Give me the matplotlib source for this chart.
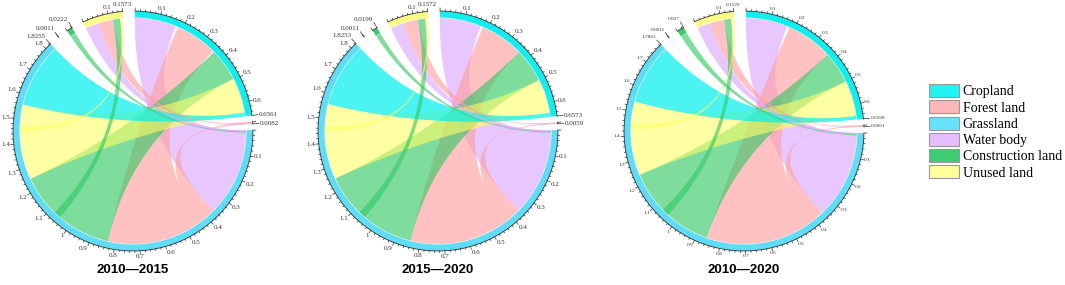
import numpy as np
import matplotlib.pyplot as plt
from matplotlib.patches import Wedge, Patch

# land classes, in clockwise order round each circle
classes = ["Cropland", "Forest land", "Grassland", "Water body",
           "Construction land", "Unused land"]
ring_colors = ["#14EDED", "#FFB0B0", "#5FDDF6", "#E2B6FF", "#3DCB70", "#FAFA88"]
legend_colors = ["#22F2F2", "#FFB6B6", "#66E2FA", "#E6BEFF", "#3ECC73", "#FFFF99"]
chord_colors = ["#00EEEE", "#FFA0A0", "#5FDDF6", "#DDA8FF", "#2FC862", "#FFFF66"]
chord_alpha = [0.7, 0.65, 0.6, 0.65, 0.62, 0.6]

titles = ["2010\u20142015", "2015\u20142020", "2010\u20142020"]

totals_1 = [0.6561, 0.0082, 1.8255, 0.0011, 0.0222, 0.1573]
totals_2 = [0.6573, 0.0059, 1.8253, 0.0011, 0.0199, 0.1572]
totals_3 = [0.6599, 0.0061, 1.7865, 0.0011, 0.0270, 0.1529]

# links: (sector a, a from, a to, sector b, b from, b to, colour class)
links_1 = [
    (2, 0.00, 0.36, 0, 0.00, 0.17, 3),
    (2, 0.43, 0.83, 0, 0.18, 0.355, 1),
    (2, 0.83, 1.25, 0, 0.36, 0.495, 4),
    (2, 1.25, 1.56, 0, 0.495, 0.64, 5),
    (2, 1.56, 1.8255, 0, 0.64, 0.6561, 0),
    (1, 0.0, 0.0082, 2, 0.36, 0.43, 1),
    (5, 0.000, 0.055, 2, 0.000, 0.006, 3),
    (5, 0.055, 0.115, 1, 0.000, 0.004, 1),
    (5, 0.115, 0.145, 2, 1.050, 1.080, 4),
    (5, 0.145, 0.1573, 2, 1.450, 1.470, 5),
    (4, 0.000, 0.0222, 2, 0.006, 0.010, 4),
    (3, 0.000, 0.0011, 1, 0.006, 0.0082, 3),
]
links_2 = [
    (2, 0.00, 0.36, 0, 0.00, 0.17, 3),
    (2, 0.43, 0.84, 0, 0.18, 0.36, 1),
    (2, 0.84, 1.25, 0, 0.36, 0.50, 4),
    (2, 1.25, 1.56, 0, 0.50, 0.64, 5),
    (2, 1.56, 1.8253, 0, 0.64, 0.6573, 0),
    (1, 0.0, 0.0059, 2, 0.36, 0.43, 1),
    (5, 0.000, 0.055, 2, 0.000, 0.006, 3),
    (5, 0.055, 0.115, 1, 0.000, 0.003, 1),
    (5, 0.115, 0.145, 2, 1.050, 1.080, 4),
    (5, 0.145, 0.1572, 2, 1.450, 1.470, 5),
    (4, 0.000, 0.0199, 2, 0.006, 0.010, 4),
    (3, 0.000, 0.0011, 1, 0.004, 0.0059, 3),
]
links_3 = [
    (2, 0.00, 0.36, 0, 0.00, 0.17, 3),
    (2, 0.42, 0.86, 0, 0.18, 0.37, 1),
    (2, 0.86, 1.24, 0, 0.37, 0.50, 4),
    (2, 1.24, 1.54, 0, 0.50, 0.645, 5),
    (2, 1.54, 1.7865, 0, 0.645, 0.6599, 0),
    (1, 0.0, 0.0061, 2, 0.36, 0.42, 1),
    (5, 0.000, 0.055, 2, 0.000, 0.006, 3),
    (5, 0.055, 0.112, 1, 0.000, 0.003, 1),
    (5, 0.112, 0.140, 2, 1.040, 1.070, 4),
    (5, 0.140, 0.1529, 2, 1.430, 1.450, 5),
    (4, 0.000, 0.0270, 2, 0.006, 0.010, 4),
    (3, 0.000, 0.0011, 1, 0.004, 0.0061, 3),
]

panels = [(totals_1, links_1), (totals_2, links_2), (totals_3, links_3)]
centers_x = [133, 438, 744]
CY = 154
R_OUT = 120
RING_W = 6.5
R_LINK = R_OUT - RING_W - 0.5
gaps = [3, 3, 5, 5, 6, 6]
START = 89.0
label_sizes = [5.0, 5.0, 3.8]

fig = plt.figure(figsize=(10.65, 2.85), dpi=100)
ax = fig.add_axes([0, 0, 1, 1])
ax.set_xlim(0, 1065)
ax.set_ylim(0, 285)
ax.axis("off")


def polar(cx, r, deg):
    t = np.radians(deg)
    return cx + r * np.cos(t), CY + r * np.sin(t)


def bezier(p0, p2, c, n=50):
    t = np.linspace(0, 1, n)
    x = (1 - t) ** 2 * p0[0] + 2 * (1 - t) * t * c[0] + t ** 2 * p2[0]
    y = (1 - t) ** 2 * p0[1] + 2 * (1 - t) * t * c[1] + t ** 2 * p2[1]
    return x, y


def arc(cx, r, d1, d2, n=60):
    d = np.linspace(d1, d2, n)
    return polar(cx, r, d)


def place(d):
    c, sn = np.cos(np.radians(d)), np.sin(np.radians(d))
    ha = "left" if c > 0.25 else ("right" if c < -0.25 else "center")
    va = "bottom" if sn > 0.25 else ("top" if sn < -0.25 else "center")
    return ha, va


for k, (totals, links) in enumerate(panels):
    cx = centers_x[k]
    scale = (360 - sum(gaps)) / sum(totals)
    starts = []
    a = START
    for t, g in zip(totals, gaps):
        starts.append(a)
        a -= t * scale + g

    def ang(s, v):
        return starts[s] - v * scale

    # chords
    for (sa, a0, a1, sb, b0, b1, ci) in links:
        xa, ya = arc(cx, R_LINK, ang(sa, a0), ang(sa, a1))
        xb, yb = arc(cx, R_LINK, ang(sb, b0), ang(sb, b1))
        x1, y1 = bezier((xa[-1], ya[-1]), (xb[0], yb[0]), (cx, CY))
        x2, y2 = bezier((xb[-1], yb[-1]), (xa[0], ya[0]), (cx, CY))
        xs = np.concatenate([xa, x1, xb, x2])
        ys = np.concatenate([ya, y1, yb, y2])
        ax.fill(xs, ys, color=chord_colors[ci], alpha=chord_alpha[ci], lw=0)

    # ring sectors with ticks and labels
    fs = label_sizes[k]
    for s, total in enumerate(totals):
        a_end = ang(s, total)
        ax.add_patch(Wedge((cx, CY), R_OUT, a_end, starts[s], width=RING_W,
                           facecolor=ring_colors[s], edgecolor="none"))
        ox, oy = arc(cx, R_OUT, starts[s], a_end)
        ax.plot(ox, oy, color="#333333", lw=0.6)
        for v in np.arange(0, total + 1e-9, 0.02):
            major = abs(v / 0.1 - round(v / 0.1)) < 1e-6
            d = ang(s, v)
            ln = 3 if major else 1.6
            px, py = polar(cx, np.array([R_OUT, R_OUT + ln]), d)
            ax.plot(px, py, color="#333333", lw=0.5)
            if major and v > 0.05:
                tx, ty = polar(cx, R_OUT + 3.5, d)
                ha, va = place(d)
                ax.text(tx, ty, f"{round(v, 1):g}", fontsize=fs,
                        family="Liberation Serif", color="#333333", ha=ha, va=va)
        # end tick and value; near the top keep it close to the ring
        near_top = np.sin(np.radians(a_end)) > 0.9
        ln = 3 if near_top else 6
        px, py = polar(cx, np.array([R_OUT, R_OUT + ln]), a_end)
        ax.plot(px, py, color="#333333", lw=0.5)
        tx, ty = polar(cx, R_OUT + ln + 1, a_end)
        ha, va = place(a_end)
        ax.text(tx, ty, f"{total:g}", fontsize=fs, family="Liberation Serif",
                color="#333333", ha=ha, va=va)

    ax.text(cx, 15, titles[k], fontsize=9.5, fontweight="bold",
            family="Liberation Sans", ha="center", va="center")

handles = [Patch(facecolor=c, edgecolor="#999999", lw=0.8) for c in legend_colors]
ax.legend(handles, classes, loc="upper left", bbox_to_anchor=(0.872, 0.705),
          frameon=False, prop={"family": "Liberation Serif", "size": 10},
          handlelength=2.2, handleheight=1.08, labelspacing=0.14,
          handletextpad=0.25, borderpad=0, borderaxespad=0)

fig.savefig("out.png", dpi=100)
